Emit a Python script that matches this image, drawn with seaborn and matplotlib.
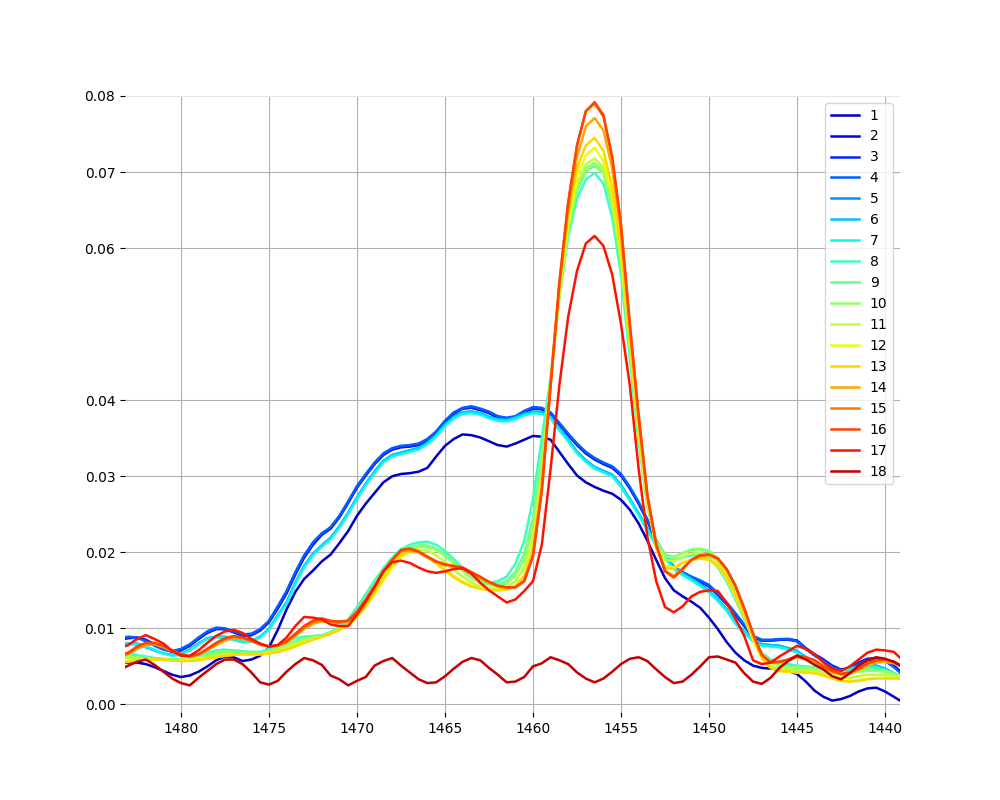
import numpy as np
import pandas as pd
import matplotlib
matplotlib.use("Agg")
import matplotlib.pyplot as plt
import seaborn as sns

# wavenumber grid (cm-1), 0.5 step, decreasing
wavenumber = np.arange(1483.5, 1438.9, -0.5)[:90]

# absorbance values in milli-units (x 1e-3)
s1 = [5.5, 5.5, 5.5, 5.3, 4.9, 4.4, 3.9, 3.6, 3.8, 4.3,
      5.0, 5.8, 6.3, 6.2, 5.7, 5.9, 6.4, 7.5, 9.8, 12.5,
      14.8, 16.5, 17.6, 18.8, 19.7, 21.2, 22.8, 24.8, 26.4, 27.8,
      29.2, 30.0, 30.3, 30.4, 30.6, 31.1, 32.6, 34.0, 34.9, 35.5,
      35.4, 35.1, 34.6, 34.1, 33.9, 34.3, 34.8, 35.3, 35.2, 34.8,
      33.2, 31.6, 30.1, 29.2, 28.6, 28.1, 27.7, 26.9, 25.6, 23.8,
      21.5, 19.0, 16.6, 15.0, 14.2, 13.5, 12.7, 11.4, 9.9, 8.2,
      6.8, 5.8, 5.1, 4.8, 4.7, 4.6, 4.4, 4.0, 3.0, 1.8,
      1.0, 0.5, 0.7, 1.1, 1.7, 2.1, 2.2, 1.7, 1.0, 0.3]
s2 = [8.5, 8.7, 8.8, 8.5, 7.9, 7.3, 6.9, 7.1, 7.7, 8.6,
      9.4, 9.9, 9.9, 9.5, 9.0, 9.1, 9.7, 10.8, 12.6, 14.6,
      17.1, 19.3, 21.0, 22.3, 23.1, 24.6, 26.5, 28.5, 30.1, 31.6,
      32.8, 33.5, 33.8, 33.9, 34.1, 34.7, 35.7, 37.1, 38.2, 38.9,
      39.0, 38.7, 38.3, 37.7, 37.5, 37.7, 38.4, 38.9, 38.8, 38.2,
      36.8, 35.4, 34.1, 33.0, 32.2, 31.6, 31.1, 30.1, 28.4, 26.4,
      24.1, 21.4, 19.4, 17.9, 17.2, 16.6, 16.1, 15.5, 14.4, 13.2,
      11.8, 10.3, 8.9, 8.4, 8.4, 8.5, 8.6, 8.4, 7.4, 6.6,
      5.9, 5.1, 4.6, 4.8, 5.5, 6.0, 6.1, 5.9, 5.1, 4.1]
s3 = [8.6, 8.8, 8.8, 8.4, 7.8, 7.3, 7.0, 7.2, 7.8, 8.7,
      9.5, 10.0, 9.9, 9.5, 9.1, 9.2, 9.8, 10.9, 12.8, 14.8,
      17.3, 19.5, 21.2, 22.4, 23.2, 24.7, 26.6, 28.6, 30.2, 31.7,
      32.9, 33.6, 33.9, 34.0, 34.2, 34.8, 35.8, 37.2, 38.3, 38.9,
      39.1, 38.8, 38.4, 37.8, 37.6, 37.8, 38.5, 39.0, 38.9, 38.3,
      36.9, 35.5, 34.2, 33.1, 32.3, 31.7, 31.2, 30.2, 28.5, 26.5,
      24.2, 21.5, 19.5, 18.0, 17.3, 16.7, 16.2, 15.6, 14.5, 13.3,
      11.9, 10.4, 8.9, 8.4, 8.4, 8.5, 8.5, 8.3, 7.3, 6.5,
      5.8, 5.0, 4.5, 4.7, 5.4, 5.9, 6.0, 5.8, 5.0, 4.0]
s4 = [8.7, 8.9, 8.8, 8.3, 7.7, 7.2, 7.0, 7.3, 7.9, 8.8,
      9.6, 10.1, 10.0, 9.6, 9.2, 9.3, 9.9, 11.0, 12.9, 14.9,
      17.4, 19.6, 21.3, 22.5, 23.3, 24.8, 26.7, 28.7, 30.3, 31.8,
      33.0, 33.7, 34.0, 34.1, 34.3, 34.9, 35.9, 37.3, 38.4, 39.0,
      39.2, 38.9, 38.5, 37.9, 37.7, 37.9, 38.6, 39.1, 39.0, 38.4,
      37.0, 35.6, 34.3, 33.2, 32.4, 31.8, 31.3, 30.3, 28.6, 26.6,
      24.3, 21.6, 19.6, 18.1, 17.4, 16.8, 16.3, 15.7, 14.6, 13.4,
      12.0, 10.5, 9.0, 8.5, 8.5, 8.6, 8.6, 8.3, 7.3, 6.4,
      5.7, 4.9, 4.5, 4.7, 5.3, 5.8, 5.9, 5.7, 4.9, 3.9]
s5 = [7.9, 8.0, 8.0, 7.6, 7.1, 6.7, 6.5, 6.6, 7.2, 8.0,
      8.7, 8.9, 8.9, 8.6, 8.2, 8.3, 8.9, 9.9, 11.7, 13.4,
      16.0, 18.2, 19.8, 20.9, 21.9, 23.4, 25.2, 27.2, 29.0, 30.6,
      32.0, 32.8, 33.1, 33.4, 33.7, 34.4, 35.4, 36.8, 37.8, 38.4,
      38.5, 38.3, 37.8, 37.5, 37.4, 37.7, 38.2, 38.5, 38.4, 37.8,
      36.2, 34.8, 33.2, 32.1, 31.2, 30.7, 30.2, 28.8, 27.0, 25.1,
      23.1, 21.0, 19.4, 18.0, 17.2, 16.5, 15.8, 14.9, 13.8, 12.5,
      10.8, 9.6, 8.5, 7.9, 7.8, 7.7, 7.4, 7.0, 6.2, 5.6,
      5.0, 4.6, 4.4, 4.7, 5.0, 5.2, 5.1, 4.7, 4.1, 3.6]
s6 = [7.9, 8.0, 7.9, 7.5, 7.1, 6.7, 6.5, 6.6, 7.2, 8.0,
      8.7, 8.9, 8.8, 8.5, 8.2, 8.3, 8.9, 9.9, 11.7, 13.4,
      16.0, 18.2, 19.8, 20.9, 21.9, 23.4, 25.2, 27.2, 29.0, 30.6,
      32.0, 32.8, 33.1, 33.4, 33.7, 34.4, 35.4, 36.8, 37.8, 38.4,
      38.5, 38.3, 37.8, 37.5, 37.4, 37.7, 38.2, 38.5, 38.4, 37.8,
      36.2, 34.8, 33.2, 32.1, 31.2, 30.7, 30.2, 28.8, 27.0, 25.1,
      23.1, 21.0, 19.4, 18.0, 17.2, 16.5, 15.8, 14.9, 13.8, 12.5,
      10.8, 9.6, 8.5, 7.9, 7.8, 7.7, 7.4, 7.0, 6.2, 5.6,
      5.0, 4.6, 4.4, 4.7, 5.0, 5.2, 5.1, 4.7, 4.1, 3.6]
s7 = [7.8, 7.9, 7.9, 7.6, 7.2, 6.7, 6.4, 6.5, 7.1, 7.9,
      8.6, 8.8, 8.8, 8.5, 8.2, 8.3, 8.8, 9.8, 11.6, 13.2,
      15.8, 18.0, 19.6, 20.7, 21.7, 23.2, 25.0, 27.0, 28.8, 30.4,
      31.8, 32.6, 32.9, 33.2, 33.5, 34.2, 35.2, 36.6, 37.6, 38.2,
      38.3, 38.1, 37.6, 37.3, 37.2, 37.5, 38.0, 38.3, 38.2, 37.6,
      36.0, 34.6, 33.0, 31.9, 31.0, 30.5, 30.0, 28.6, 26.8, 24.9,
      22.9, 20.8, 19.2, 17.8, 17.0, 16.3, 15.6, 14.7, 13.6, 12.3,
      10.6, 9.4, 8.3, 7.7, 7.6, 7.5, 7.2, 6.8, 6.0, 5.4,
      4.8, 4.4, 4.2, 4.6, 4.9, 5.0, 4.9, 4.5, 3.9, 3.4]
s8 = [6.8, 6.7, 6.5, 6.3, 6.1, 6.0, 5.9, 6.0, 6.1, 6.4,
      6.8, 7.1, 7.2, 7.1, 7.0, 6.9, 6.9, 7.3, 7.8, 8.3,
      8.7, 8.9, 9.0, 9.1, 9.5, 10.2, 11.2, 12.8, 14.5, 16.3,
      17.9, 19.3, 20.4, 21.0, 21.3, 21.4, 21.0, 20.2, 19.1, 18.0,
      17.0, 16.4, 16.0, 16.2, 16.8, 18.5, 21.5, 27.0, 35.0, 43.0,
      54.0, 61.5, 66.5, 69.0, 69.9, 68.5, 64.0, 56.5, 45.5, 34.5,
      26.0, 21.2, 19.5, 19.0, 19.3, 19.6, 19.6, 19.2, 18.0, 16.2,
      13.8, 11.2, 8.6, 6.8, 5.9, 5.5, 5.3, 5.1, 5.0, 4.9,
      4.6, 4.3, 4.2, 4.3, 4.5, 4.7, 4.6, 4.4, 4.0, 3.6]
s9 = [6.6, 6.5, 6.3, 6.1, 6.0, 5.9, 5.9, 5.9, 6.0, 6.2,
      6.5, 6.9, 7.0, 6.9, 6.8, 6.7, 6.7, 7.0, 7.5, 7.9,
      8.3, 8.7, 8.9, 9.0, 9.5, 10.0, 10.8, 12.2, 13.8, 15.6,
      17.3, 18.8, 20.0, 20.6, 20.9, 20.9, 20.5, 19.8, 18.8, 17.8,
      16.9, 16.3, 15.9, 15.8, 16.2, 17.4, 19.8, 24.5, 32.5, 43.0,
      53.5, 62.0, 67.5, 70.1, 70.8, 69.8, 65.5, 58.0, 47.0, 35.5,
      26.5, 21.5, 19.7, 19.4, 19.9, 20.3, 20.4, 20.1, 19.1, 17.3,
      14.8, 12.0, 9.0, 6.7, 5.6, 5.3, 5.0, 4.9, 4.9, 4.8,
      4.5, 4.3, 4.2, 4.3, 4.5, 4.6, 4.6, 4.5, 4.1, 3.7]
s10 = [6.5, 6.4, 6.2, 6.0, 5.9, 5.9, 5.8, 5.9, 6.0, 6.2,
       6.4, 6.8, 6.9, 6.9, 6.8, 6.7, 6.7, 6.9, 7.4, 7.8,
       8.2, 8.6, 8.8, 9.0, 9.4, 9.9, 10.6, 12.0, 13.6, 15.4,
       17.1, 18.6, 19.8, 20.4, 20.7, 20.7, 20.3, 19.5, 18.5, 17.5,
       16.6, 16.0, 15.7, 15.6, 15.9, 16.9, 19.0, 23.5, 31.5, 42.5,
       53.5, 62.5, 68.0, 70.5, 71.2, 70.0, 65.8, 58.2, 47.0, 35.5,
       26.5, 21.3, 19.5, 19.3, 19.9, 20.4, 20.5, 20.2, 19.2, 17.4,
       14.9, 12.1, 9.1, 6.7, 5.5, 5.1, 4.9, 4.8, 4.8, 4.7,
       4.4, 4.1, 4.0, 4.1, 4.3, 4.4, 4.4, 4.3, 4.0, 3.6]
s11 = [6.1, 6.1, 6.1, 6.0, 5.9, 5.8, 5.8, 5.8, 5.9, 6.0,
       6.2, 6.5, 6.6, 6.6, 6.6, 6.6, 6.6, 6.8, 7.1, 7.5,
       7.9, 8.4, 8.7, 8.9, 9.3, 9.8, 10.5, 11.8, 13.2, 15.0,
       16.8, 18.4, 19.6, 20.2, 20.4, 20.2, 19.6, 18.7, 17.7, 16.8,
       16.0, 15.5, 15.3, 15.2, 15.4, 16.2, 18.0, 22.0, 30.5, 42.5,
       54.0, 63.0, 68.5, 71.0, 71.8, 70.5, 66.2, 58.5, 47.2, 35.8,
       26.5, 21.0, 19.0, 18.8, 19.4, 19.8, 19.9, 19.6, 18.7, 16.9,
       14.5, 11.8, 8.8, 6.4, 5.1, 4.7, 4.6, 4.5, 4.5, 4.4,
       4.1, 3.8, 3.5, 3.5, 3.7, 3.9, 3.9, 3.9, 3.7, 3.5]
s12 = [5.6, 5.7, 5.8, 5.9, 5.9, 5.9, 5.8, 5.8, 5.8, 5.9,
       6.0, 6.2, 6.4, 6.5, 6.6, 6.6, 6.6, 6.7, 6.9, 7.2,
       7.6, 8.1, 8.5, 8.9, 9.3, 9.8, 10.4, 11.5, 12.8, 14.5,
       16.3, 18.0, 19.4, 20.0, 20.0, 19.5, 18.7, 17.8, 16.9, 16.2,
       15.6, 15.3, 15.1, 15.0, 15.1, 15.5, 16.8, 20.5, 29.5, 42.5,
       54.5, 63.5, 69.5, 72.2, 73.2, 71.5, 67.0, 59.0, 47.5, 36.0,
       26.5, 20.5, 18.2, 18.0, 18.7, 19.0, 19.2, 19.0, 18.2, 16.5,
       14.2, 11.5, 8.5, 6.0, 4.8, 4.4, 4.3, 4.2, 4.2, 4.1,
       3.8, 3.5, 3.1, 3.0, 3.2, 3.4, 3.5, 3.5, 3.5, 3.5]
s13 = [5.5, 5.6, 5.8, 5.9, 5.9, 5.9, 5.8, 5.7, 5.7, 5.8,
       6.0, 6.2, 6.4, 6.5, 6.6, 6.6, 6.6, 6.7, 6.9, 7.2,
       7.6, 8.1, 8.5, 8.9, 9.3, 9.8, 10.5, 11.6, 13.0, 14.8,
       16.6, 18.3, 19.6, 20.1, 20.0, 19.4, 18.5, 17.6, 16.7, 16.0,
       15.5, 15.2, 15.0, 15.0, 15.1, 15.6, 16.9, 20.5, 29.5, 42.5,
       55.0, 64.5, 70.5, 73.5, 74.5, 72.8, 68.0, 59.8, 48.0, 36.5,
       26.8, 20.5, 18.0, 17.8, 18.6, 19.0, 19.2, 19.0, 18.3, 16.7,
       14.4, 11.7, 8.7, 6.1, 4.8, 4.4, 4.3, 4.2, 4.2, 4.1,
       3.8, 3.4, 3.1, 3.0, 3.1, 3.3, 3.4, 3.4, 3.4, 3.4]
s14 = [6.2, 6.6, 7.3, 7.8, 7.9, 7.5, 7.0, 6.6, 6.3, 6.5,
       7.1, 7.8, 8.4, 8.7, 8.6, 8.3, 7.9, 7.6, 7.7, 8.1,
       9.0, 9.9, 10.6, 10.9, 10.8, 10.7, 10.9, 12.1, 13.7, 15.5,
       17.4, 18.9, 20.1, 20.3, 20.0, 19.3, 18.7, 18.3, 18.1, 17.8,
       17.2, 16.6, 16.0, 15.5, 15.3, 15.4, 16.3, 19.8, 28.5, 42.0,
       55.0, 65.0, 72.0, 76.0, 77.1, 75.5, 70.5, 62.0, 49.5, 37.5,
       27.3, 21.0, 17.6, 16.9, 17.9, 19.0, 19.5, 19.6, 19.1, 17.7,
       15.5, 12.6, 9.3, 6.6, 5.5, 5.5, 5.8, 6.2, 6.0, 5.6,
       4.9, 4.3, 3.9, 4.0, 4.5, 5.1, 5.5, 5.6, 5.4, 4.9]
s15 = [6.3, 6.7, 7.5, 8.0, 8.0, 7.6, 7.1, 6.6, 6.3, 6.6,
       7.2, 8.0, 8.6, 8.9, 8.7, 8.4, 7.9, 7.6, 7.8, 8.2,
       9.2, 10.1, 10.8, 11.2, 10.9, 10.8, 11.0, 12.1, 13.7, 15.5,
       17.5, 19.0, 20.2, 20.4, 20.1, 19.4, 18.8, 18.4, 18.2, 17.9,
       17.3, 16.7, 16.1, 15.6, 15.4, 15.4, 16.2, 19.6, 28.2, 42.0,
       55.5, 66.0, 73.5, 78.0, 79.0, 77.3, 71.8, 63.0, 50.0, 38.0,
       27.5, 21.0, 17.5, 16.7, 17.8, 19.0, 19.6, 19.7, 19.2, 17.8,
       15.6, 12.6, 9.3, 6.5, 5.5, 5.6, 5.9, 6.4, 6.2, 5.8,
       5.0, 4.4, 4.0, 4.2, 4.7, 5.4, 5.8, 5.9, 5.6, 5.0]
s16 = [6.4, 6.8, 7.6, 8.1, 8.1, 7.7, 7.1, 6.6, 6.3, 6.6,
       7.3, 8.1, 8.7, 9.0, 8.8, 8.4, 7.9, 7.6, 7.8, 8.3,
       9.3, 10.3, 11.0, 11.3, 11.0, 10.9, 11.0, 12.2, 13.8, 15.6,
       17.5, 19.0, 20.3, 20.5, 20.1, 19.4, 18.8, 18.4, 18.2, 18.0,
       17.4, 16.8, 16.1, 15.6, 15.4, 15.4, 16.2, 19.5, 28.0, 42.0,
       55.5, 66.0, 73.5, 78.0, 79.2, 77.5, 72.0, 63.0, 50.0, 38.0,
       27.5, 21.0, 17.5, 16.7, 17.8, 19.0, 19.6, 19.7, 19.2, 17.8,
       15.6, 12.6, 9.3, 6.5, 5.5, 5.6, 5.9, 6.4, 6.2, 5.8,
       5.0, 4.4, 4.0, 4.2, 4.7, 5.4, 5.8, 5.9, 5.6, 5.0]
s17 = [7.4, 7.8, 8.6, 9.1, 8.6, 8.0, 7.0, 6.4, 6.4, 7.1,
       8.1, 9.0, 9.6, 9.8, 9.4, 8.6, 8.0, 7.6, 7.8, 8.8,
       10.3, 11.5, 11.4, 11.2, 10.5, 10.3, 10.3, 11.8, 13.5, 15.4,
       17.5, 18.7, 18.9, 18.6, 18.0, 17.5, 17.3, 17.5, 17.8, 17.9,
       17.2, 16.0, 15.0, 14.2, 13.4, 13.8, 14.9, 16.2, 21.0, 31.0,
       42.0, 51.0, 57.0, 60.6, 61.6, 60.3, 56.5, 50.0, 42.0, 31.0,
       22.0, 16.2, 12.8, 12.1, 12.9, 14.2, 14.8, 15.0, 14.9, 13.4,
       11.3, 9.0, 5.8, 5.3, 5.5, 6.3, 7.0, 7.7, 7.3, 6.6,
       5.5, 4.7, 4.4, 5.0, 5.9, 6.8, 7.2, 7.1, 6.9, 5.8]
s18 = [4.5, 5.1, 5.6, 5.9, 5.2, 4.3, 3.4, 2.8, 2.5, 3.5,
       4.4, 5.3, 5.9, 5.9, 5.3, 4.2, 2.9, 2.6, 3.1, 4.3,
       5.3, 6.1, 5.8, 5.2, 3.8, 3.3, 2.5, 3.1, 3.6, 5.1,
       5.7, 6.1, 5.1, 4.2, 3.3, 2.8, 2.9, 3.7, 4.7, 5.6,
       6.1, 5.8, 4.8, 3.9, 2.9, 3.0, 3.6, 5.0, 5.4, 6.2,
       5.8, 5.3, 4.2, 3.4, 2.9, 3.4, 4.3, 5.3, 6.0, 6.2,
       5.7, 4.6, 3.6, 2.8, 3.0, 3.9, 5.0, 6.2, 6.3, 5.9,
       5.5, 4.1, 3.0, 2.7, 3.5, 4.8, 5.7, 6.4, 5.9, 5.2,
       4.6, 3.7, 3.3, 4.1, 5.1, 5.8, 6.2, 6.0, 5.6, 4.9]

series = [s1, s2, s3, s4, s5, s6, s7, s8, s9, s10,
          s11, s12, s13, s14, s15, s16, s17, s18]
labels = [str(k) for k in range(1, 19)]
y_ticks = [0.00, 0.01, 0.02, 0.03, 0.04, 0.06, 0.07, 0.08]
y_ticklabels = ["0.00", "0.01", "0.02", "0.03", "0.04", "0.06", "0.07", "0.08"]
x_ticks = [1480, 1475, 1470, 1465, 1460, 1455, 1450, 1445, 1440]

frames = []
for lab, vals in zip(labels, series):
    n = min(len(vals), len(wavenumber))
    frames.append(pd.DataFrame({"wn": wavenumber[:n],
                                "absorbance": np.array(vals[:n]) / 1000.0,
                                "spectrum": lab}))
df = pd.concat(frames, ignore_index=True)

colors = [matplotlib.colormaps["jet"](t) for t in np.linspace(0.06, 0.94, 18)]

fig, ax = plt.subplots(figsize=(10, 8), dpi=100)
sns.lineplot(data=df, x="wn", y="absorbance", hue="spectrum", hue_order=labels,
             palette=colors, estimator=None, sort=False, linewidth=1.8, ax=ax)

ax.set_xlim(1483.18, 1439.15)
ax.set_ylim(-0.001, 0.08)
ax.set_xticks(x_ticks)
ax.set_xticklabels([str(v) for v in x_ticks])
ax.set_yticks(y_ticks)
ax.set_yticklabels(y_ticklabels)
ax.grid(True, color="#b0b0b0", linewidth=0.8)
ax.set_axisbelow(True)
ax.get_ygridlines()[-1].set_color("#e6e6e6")
for sp in ax.spines.values():
    sp.set_visible(False)
ax.set_xlabel("")
ax.set_ylabel("")
sns.move_legend(ax, "upper right", title=None)

fig.savefig("out.png", dpi=100)
